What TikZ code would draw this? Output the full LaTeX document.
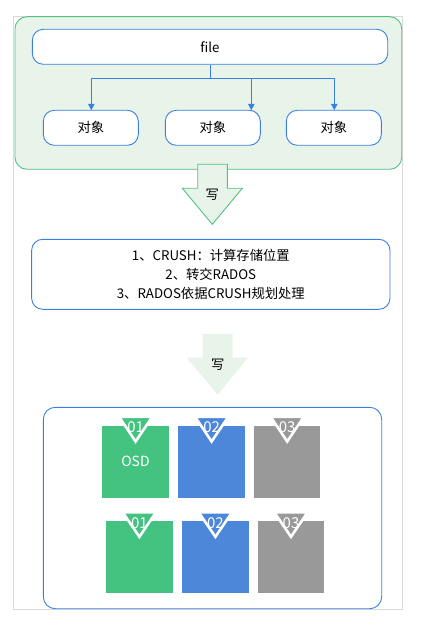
\documentclass[tikz,border=0pt]{standalone}
\usepackage{fontspec}
\setmainfont{Noto Sans CJK SC}
\usetikzlibrary{arrows.meta}
\definecolor{boxblue}{HTML}{3A80E0}
\definecolor{cgreen}{HTML}{52C283}
\definecolor{lgreen}{HTML}{E8F4EA}
\definecolor{sqgreen}{HTML}{44C27F}
\definecolor{sqblue}{HTML}{4C87DA}
\definecolor{sqgray}{HTML}{999999}
\definecolor{frame}{HTML}{D9D9D9}
\tikzset{
  txt/.style={font=\fontsize{13.3}{19}\selectfont, text=black},
  rbox/.style={draw=boxblue, line width=0.9pt, fill=white, rounded corners=11pt, inner sep=0pt, txt},
  conn/.style={draw=boxblue, line width=0.9pt, -{Triangle[width=6.5pt,length=6.5pt]}},
  sq/.style={inner sep=0pt, minimum width=67pt, minimum height=71.7pt, text=white, font=\fontsize{14}{16}\selectfont},
  tri/.style={draw=white, line width=2.6pt, line join=miter},
  num/.style={text=white, font=\fontsize{15}{16}\selectfont, inner sep=0pt},
}
\begin{document}
\begin{tikzpicture}[x=1pt,y=-1pt]
\useasboundingbox (0,0) rectangle (420,628);
% outer frame
\draw[frame, line width=0.9pt] (13.3,16) rectangle (402.7,609.3);
% green container
\draw[cgreen, fill=lgreen, line width=0.9pt, rounded corners=12pt] (15,16.7) rectangle (401.7,169.3);
% file and objects
\node[rbox, minimum width=355.4pt, minimum height=35pt] (file) at (210,46.8) {file};
\node[rbox, minimum width=95pt, minimum height=35pt] (o1) at (90.8,127.8) {对象};
\node[rbox, minimum width=95pt, minimum height=35pt] (o2) at (212.8,127.8) {对象};
\node[rbox, minimum width=95pt, minimum height=35pt] (o3) at (333.8,127.8) {对象};
\coordinate (split) at (210,78.3);
\coordinate (e1) at (91.3,110.3);
\coordinate (e2) at (251.3,110.3);
\coordinate (e3) at (334.3,110.3);
\draw[boxblue, line width=0.9pt] (file.south) -- (split);
\draw[conn] (split) -| (e1);
\draw[conn] (split) -| (e2);
\draw[conn] (split) -| (e3);
% big arrow 1
\draw[cgreen, fill=lgreen, line width=0.9pt] (197.7,164.3) -- (227.3,164.3) -- (227.3,188.3) -- (242.3,188.3) -- (212.3,224.3) -- (182.3,188.3) -- (197.7,188.3) -- cycle;
\node[txt] (w1) at (212.3,195) {写};
% steps box
\node[rbox, minimum width=358.3pt, minimum height=70pt, align=center] (steps) at (210.8,274.3)
  {1、CRUSH：计算存储位置\\2、转交RADOS\\3、RADOS依据CRUSH规划处理};
% big arrow 2
\fill[lgreen] (202.7,334) -- (232.7,334) -- (232.7,357.7) -- (248,357.7) -- (217.7,394.7) -- (186.7,357.7) -- (202.7,357.7) -- cycle;
\node[txt] (w2) at (217.7,365) {写};
% bottom box
\draw[boxblue, line width=0.9pt, rounded corners=12pt] (43.3,407.3) rectangle (381.7,608.7);
% row 1
\node[sq, fill=sqgreen] (a1) at (135.5,461.8) {OSD};
\node[sq, fill=sqblue] (a2) at (211.5,461.8) {};
\node[sq, fill=sqgray, minimum width=66pt] (a3) at (287,461.8) {};
\draw[tri, fill=sqgreen] (119,416.7) -- (152.3,416.7) -- (135.6,441.5) -- cycle;
\draw[tri, fill=sqblue] (195,416.7) -- (228.3,416.7) -- (211.6,441.5) -- cycle;
\draw[tri, fill=sqgray] (270.6,416.7) -- (303.9,416.7) -- (287.2,441.5) -- cycle;
\node[num] (n1) at (135.6,427.5) {01};
\node[num] (n2) at (211.6,427.5) {02};
\node[num] (n3) at (287.2,427.5) {03};
% row 2
\node[sq, fill=sqgreen] (b1) at (139.5,556.8) {};
\node[sq, fill=sqblue] (b2) at (215.5,556.8) {};
\node[sq, fill=sqgray, minimum width=66pt] (b3) at (291,556.8) {};
\draw[tri, fill=sqgreen] (122.7,512.3) -- (156,512.3) -- (139.4,536.8) -- cycle;
\draw[tri, fill=sqblue] (198.7,512.3) -- (232,512.3) -- (215.4,536.8) -- cycle;
\draw[tri, fill=sqgray] (274.3,512.3) -- (307.6,512.3) -- (291,536.8) -- cycle;
\node[num] (m1) at (139.4,523) {01};
\node[num] (m2) at (215.4,523) {02};
\node[num] (m3) at (291,523) {03};
\end{tikzpicture}
\end{document}
